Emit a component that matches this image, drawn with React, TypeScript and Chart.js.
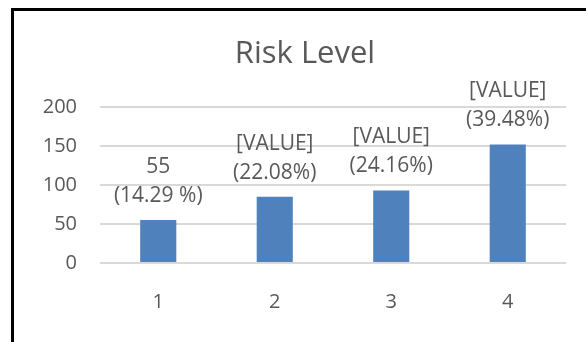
import React, { useEffect, useRef } from "react";
import { Chart, registerables } from "chart.js";

Chart.register(...registerables);

const categories = ["1", "2", "3", "4"];
const values = [55, 85, 93, 152];
const valueLabels = ["55", "[VALUE]", "[VALUE]", "[VALUE]"];
const percentLabels = ["(14.29 %)", "(22.08%)", "(24.16%)", "(39.48%)"];
const yMin = 0;
const yMax = 200;
const yStep = 50;
const chartTitle = "Risk Level";

const TEXT = "#595959";
const FONT = "'Open Sans', Lato, sans-serif";

const decorPlugin = {
  id: "decor",
  beforeDraw(chart: any) {
    const ctx = chart.ctx;
    ctx.save();
    ctx.fillStyle = "#ffffff";
    ctx.fillRect(0, 0, chart.width, chart.height);
    ctx.restore();
  },
  afterDatasetsDraw(chart: any) {
    const ctx = chart.ctx;
    const meta = chart.getDatasetMeta(0);
    ctx.save();
    ctx.fillStyle = TEXT;
    ctx.textAlign = "center";
    ctx.textBaseline = "middle";
    ctx.font = `21px ${FONT}`;
    meta.data.forEach((bar: any, i: number) => {
      ctx.fillText(percentLabels[i], bar.x, bar.y - 24);
      ctx.fillText(valueLabels[i], bar.x, bar.y - 53);
    });
    ctx.font = `31px ${FONT}`;
    ctx.textBaseline = "alphabetic";
    ctx.fillText(chartTitle, 305, 63);
    // frame
    ctx.strokeStyle = "#000000";
    ctx.lineWidth = 3;
    ctx.strokeRect(12.5, 9.5, 700, 500);
    ctx.restore();
  },
};

export default function App() {
  const ref = useRef<HTMLCanvasElement | null>(null);
  useEffect(() => {
    if (!ref.current) return;
    const chart = new Chart(ref.current, {
      type: "bar",
      data: {
        labels: categories,
        datasets: [
          {
            data: values,
            backgroundColor: "#4F81BD",
            borderWidth: 0,
            barPercentage: 0.31,
            categoryPercentage: 1,
          },
        ],
      },
      options: {
        animation: false,
        responsive: false,
        devicePixelRatio: 1,
        layout: { padding: { top: 107, left: 0, right: 20, bottom: 19 } },
        plugins: {
          legend: { display: false },
          title: { display: false },
          tooltip: { enabled: false },
        },
        scales: {
          x: {
            grid: { display: false, drawTicks: false },
            border: { display: false },
            ticks: { color: TEXT, font: { family: FONT, size: 20 }, padding: 27 },
            afterFit: (scale: any) => {
              scale.height = 60;
            },
          },
          y: {
            min: yMin,
            max: yMax,
            grid: { color: "#d9d9d9", lineWidth: 2, drawTicks: false },
            border: { display: false },
            ticks: {
              stepSize: yStep,
              color: TEXT,
              font: { family: FONT, size: 20 },
              padding: 23,
            },
            afterFit: (scale: any) => {
              scale.width = 100;
            },
          },
        },
      },
      plugins: [decorPlugin],
    });
    return () => chart.destroy();
  }, []);
  return (
    <div style={{ position: "fixed", left: 0, top: 0, width: 586, height: 342 }}>
      <canvas ref={ref} width={586} height={342} style={{ display: "block" }} />
    </div>
  );
}
